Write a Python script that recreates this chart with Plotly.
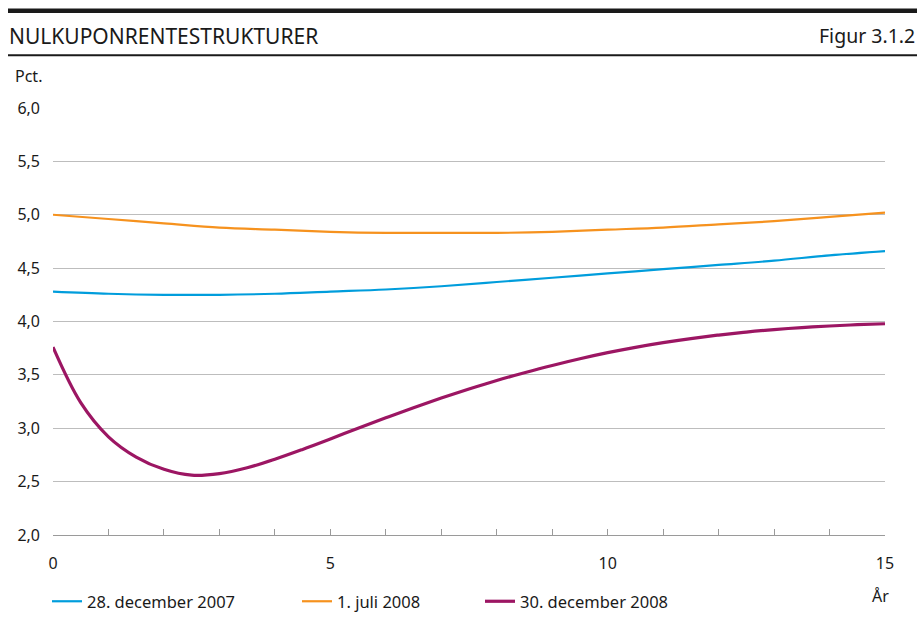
import plotly.graph_objects as go

# Maturity in years
years_a = [0, 1, 2, 3, 4, 5, 6, 7, 8, 9, 10, 11, 12, 13, 14, 15]
# Zero-coupon yields (pct.)
dec_2007 = [4.28, 4.26, 4.25, 4.25, 4.26, 4.28, 4.30, 4.33, 4.37, 4.41, 4.45, 4.49, 4.53, 4.57, 4.62, 4.66]
jul_2008 = [5.00, 4.96, 4.92, 4.88, 4.86, 4.84, 4.83, 4.83, 4.83, 4.84, 4.86, 4.88, 4.91, 4.94, 4.98, 5.02]

years_b = [0, 0.5, 1.0, 1.5, 2.0, 2.5, 3.0, 3.5, 4.0, 4.5, 5.0, 5.5, 6.0, 6.5, 7.0, 7.5,
           8.0, 8.5, 9.0, 9.5, 10.0, 10.5, 11.0, 11.5, 12.0, 12.5, 13.0, 13.5, 14.0, 14.5, 15.0]
dec_2008 = [3.76, 3.24, 2.92, 2.73, 2.615, 2.56, 2.575, 2.63, 2.71, 2.802, 2.90, 3.00, 3.098,
            3.193, 3.283, 3.368, 3.448, 3.52, 3.588, 3.651, 3.708, 3.758, 3.802, 3.84, 3.873,
            3.901, 3.924, 3.943, 3.958, 3.97, 3.979]

names = ["28. december 2007", "1. juli 2008", "30. december 2008"]
colors = ["#009ddc", "#f6921e", "#9c1663"]

y_ticks = [2.0, 2.5, 3.0, 3.5, 4.0, 4.5, 5.0, 5.5, 6.0]
x_ticks = list(range(16))
x_text = [str(v) if v % 5 == 0 else "" for v in x_ticks]

FONT = "Noto Sans"
TXT = "#1a1a1a"

fig = go.Figure()
fig.add_trace(go.Scatter(x=years_a, y=dec_2007, mode="lines", name=names[0],
                         line=dict(color=colors[0], width=2.2, shape="spline"), legend="legend"))
fig.add_trace(go.Scatter(x=years_a, y=jul_2008, mode="lines", name=names[1],
                         line=dict(color=colors[1], width=2.2, shape="spline"), legend="legend2"))
fig.add_trace(go.Scatter(x=years_b, y=dec_2008, mode="lines", name=names[2],
                         line=dict(color=colors[2], width=3.2, shape="spline"),
                         legend="legend3"))

W, H = 917, 631
L, R, T, B = 53, 32, 108, 93
pw, ph = W - L - R, H - T - B


def px_x(px):
    return (px - L) / pw


def px_y(py):
    return (H - B - py) / ph


leg_common = dict(orientation="h", yanchor="middle", xanchor="left",
                  font=dict(family=FONT, size=16.5, color=TXT), bgcolor="rgba(0,0,0,0)",
                  itemwidth=30, borderwidth=0)

fig.update_layout(
    width=W, height=H,
    margin=dict(l=L, r=R, t=T, b=B),
    paper_bgcolor="white", plot_bgcolor="white",
    separators=",.",
    font=dict(family=FONT, size=16, color=TXT),
    showlegend=True,
    legend=dict(x=px_x(47), y=px_y(605), **leg_common),
    legend2=dict(x=px_x(297), y=px_y(605), **leg_common),
    legend3=dict(x=px_x(480), y=px_y(605), **leg_common),
    xaxis=dict(range=[0, 15], tickvals=x_ticks, ticktext=x_text, ticks="inside",
               ticklen=6, tickcolor="#9a9a9a", showline=True, linecolor="#9a9a9a",
               linewidth=1, showgrid=False, zeroline=False, ticklabelstandoff=14,
               tickfont=dict(family=FONT, size=16, color=TXT)),
    yaxis=dict(range=[2, 6], tickvals=y_ticks, tickformat=".1f", showgrid=True,
               gridcolor="#bdbdbd", gridwidth=1, zeroline=False, showline=False,
               ticks="", ticklabelstandoff=12,
               tickfont=dict(family=FONT, size=16, color=TXT)),
)

# Header rules
fig.add_shape(type="line", xref="paper", yref="paper", x0=px_x(8), x1=px_x(917),
              y0=px_y(10), y1=px_y(10), line=dict(color="#1a1a1a", width=4.5))
fig.add_shape(type="line", xref="paper", yref="paper", x0=px_x(8), x1=px_x(917),
              y0=px_y(55), y1=px_y(55), line=dict(color="#1a1a1a", width=2))

fig.add_annotation(xref="paper", yref="paper", x=px_x(7), y=px_y(35), xanchor="left",
                   yanchor="middle", text="NULKUPONRENTESTRUKTURER", showarrow=False,
                   font=dict(family=FONT, size=21, color=TXT))
fig.add_annotation(xref="paper", yref="paper", x=px_x(917), y=px_y(35), xanchor="right",
                   yanchor="middle", text="Figur 3.1.2", showarrow=False,
                   font=dict(family=FONT, size=19.5, color=TXT))
fig.add_annotation(xref="paper", yref="paper", x=px_x(13), y=px_y(76), xanchor="left",
                   yanchor="middle", text="Pct.", showarrow=False,
                   font=dict(family=FONT, size=16, color=TXT))
fig.add_annotation(xref="paper", yref="paper", x=px_x(891), y=px_y(599), xanchor="right",
                   yanchor="middle", text="År", showarrow=False,
                   font=dict(family=FONT, size=16, color=TXT))

fig.write_html("out.html")
